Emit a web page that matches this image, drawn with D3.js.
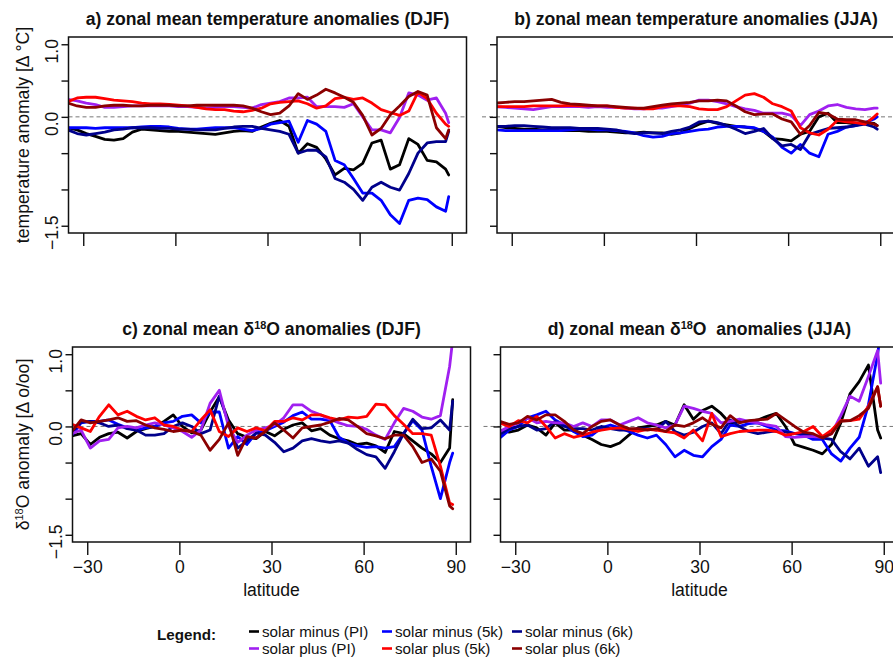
<!DOCTYPE html>
<html><head><meta charset="utf-8">
<script src="https://cdn.jsdelivr.net/npm/d3@7"></script>
<style>body{margin:0;background:#fff}svg{font-family:"Liberation Sans",Arial,Helvetica,sans-serif}</style>
</head><body>
<svg id="chart" width="893" height="657"></svg>
<script>
// ---------- DATA ----------
const lat = [-35,-32,-29,-26,-23,-20,-17,-14,-11,-8,-5,-2,1,4,7,10,13,16,19,22,25,28,31,34,37,40,43,46,49,52,55,58,61,64,67,70,73,76,79,82,85,88,89];

const seriesNames = ["solar minus (PI)","solar minus (5k)","solar minus (6k)","solar plus (PI)","solar plus (5k)","solar plus (6k)"];
const seriesColors = ["#000000","#0000FF","#00008B","#A020F0","#FF0000","#8B0000"];

const yTicks = [-1.5,-1,-0.5,0,0.5,1];
const yTickLabels = [[1,"1.0"],[0,"0.0"],[-1.5,"\u22121.5"]];
const xTicks = [-30,0,30,60,90];

// a) temperature DJF
const tDJF_minusPI = [-0.15,-0.18,-0.23,-0.27,-0.31,-0.32,-0.30,-0.21,-0.17,-0.18,-0.19,-0.20,-0.20,-0.21,-0.22,-0.23,-0.24,-0.22,-0.20,-0.19,-0.20,-0.14,-0.09,-0.05,-0.13,-0.50,-0.37,-0.42,-0.58,-0.80,-0.71,-0.73,-0.64,-0.36,-0.32,-0.72,-0.66,-0.30,-0.38,-0.60,-0.62,-0.72,-0.80];
const tDJF_minus5k = [-0.15,-0.15,-0.15,-0.16,-0.15,-0.15,-0.15,-0.15,-0.14,-0.13,-0.13,-0.14,-0.16,-0.17,-0.17,-0.16,-0.15,-0.15,-0.15,-0.17,-0.19,-0.16,-0.10,-0.08,-0.06,-0.35,-0.05,-0.10,-0.20,-0.60,-0.66,-0.85,-1.05,-1.05,-1.15,-1.35,-1.47,-1.15,-1.12,-1.14,-1.24,-1.30,-1.10];
const tDJF_minus6k = [-0.18,-0.23,-0.25,-0.23,-0.21,-0.18,-0.17,-0.15,-0.15,-0.15,-0.16,-0.16,-0.17,-0.17,-0.18,-0.18,-0.18,-0.16,-0.14,-0.13,-0.13,-0.16,-0.18,-0.20,-0.24,-0.50,-0.46,-0.46,-0.55,-0.85,-0.90,-1.00,-1.15,-0.97,-0.90,-0.97,-1.01,-0.78,-0.50,-0.36,-0.34,-0.34,-0.20];
const tDJF_plusPI = [0.24,0.22,0.19,0.17,0.13,0.13,0.14,0.15,0.15,0.15,0.15,0.15,0.14,0.14,0.13,0.12,0.13,0.14,0.14,0.13,0.12,0.17,0.19,0.21,0.26,0.26,0.27,0.14,0.14,0.14,0.13,0.18,0.00,-0.18,-0.18,-0.22,-0.01,0.33,0.30,0.23,0.26,0.05,-0.08];
const tDJF_plus5k = [0.21,0.26,0.27,0.27,0.25,0.23,0.22,0.21,0.19,0.18,0.18,0.17,0.16,0.15,0.13,0.11,0.10,0.10,0.08,0.07,0.09,0.12,0.18,0.20,0.21,0.22,0.18,0.12,0.15,0.25,0.27,0.24,0.26,0.19,0.10,0.06,0.02,0.08,0.34,0.25,0.05,-0.10,-0.13];
const tDJF_plus6k = [0.19,0.15,0.13,0.13,0.15,0.16,0.16,0.15,0.15,0.16,0.16,0.16,0.15,0.15,0.16,0.16,0.16,0.16,0.16,0.15,0.12,0.07,0.03,0.05,0.15,0.32,0.24,0.30,0.38,0.33,0.27,0.20,0.02,-0.25,-0.16,0.03,0.15,0.28,0.35,0.30,-0.15,-0.30,-0.18];

// b) temperature JJA
const tJJA_minusPI = [-0.13,-0.15,-0.16,-0.17,-0.17,-0.18,-0.18,-0.19,-0.19,-0.19,-0.20,-0.20,-0.20,-0.21,-0.22,-0.22,-0.21,-0.22,-0.22,-0.24,-0.22,-0.16,-0.10,-0.06,-0.09,-0.11,-0.13,-0.14,-0.16,-0.20,-0.30,-0.31,-0.33,-0.24,-0.20,0.00,0.05,-0.08,-0.08,-0.10,-0.08,-0.09,-0.12];
const tJJA_minus5k = [-0.18,-0.19,-0.19,-0.19,-0.19,-0.19,-0.19,-0.19,-0.18,-0.17,-0.17,-0.18,-0.18,-0.19,-0.20,-0.22,-0.26,-0.28,-0.27,-0.23,-0.22,-0.20,-0.18,-0.17,-0.14,-0.13,-0.13,-0.14,-0.15,-0.20,-0.28,-0.42,-0.50,-0.38,-0.50,-0.55,-0.24,-0.20,-0.14,-0.12,-0.08,-0.03,0.00];
const tJJA_minus6k = [-0.13,-0.13,-0.12,-0.12,-0.13,-0.14,-0.15,-0.15,-0.15,-0.16,-0.16,-0.16,-0.17,-0.18,-0.21,-0.23,-0.22,-0.22,-0.23,-0.20,-0.18,-0.14,-0.07,-0.06,-0.08,-0.12,-0.17,-0.23,-0.20,-0.16,-0.30,-0.40,-0.38,-0.45,-0.24,-0.20,-0.16,-0.15,-0.14,-0.12,-0.10,-0.14,-0.17];
const tJJA_plusPI = [0.14,0.13,0.12,0.11,0.10,0.12,0.14,0.14,0.14,0.14,0.13,0.14,0.13,0.13,0.12,0.11,0.11,0.12,0.12,0.14,0.16,0.19,0.23,0.23,0.21,0.18,0.14,0.11,0.09,0.05,0.05,0.05,0.02,-0.12,0.03,0.08,0.15,0.17,0.13,0.11,0.10,0.12,0.12];
const tJJA_plus5k = [0.14,0.14,0.14,0.14,0.15,0.15,0.15,0.15,0.16,0.15,0.15,0.15,0.15,0.13,0.12,0.12,0.11,0.11,0.14,0.15,0.15,0.14,0.11,0.10,0.10,0.14,0.22,0.30,0.32,0.27,0.18,0.14,0.08,-0.15,-0.22,-0.25,-0.17,-0.05,-0.07,-0.08,-0.10,0.00,0.04];
const tJJA_plus6k = [0.19,0.20,0.21,0.21,0.22,0.23,0.24,0.20,0.18,0.17,0.16,0.15,0.15,0.14,0.13,0.12,0.12,0.14,0.16,0.18,0.19,0.20,0.22,0.22,0.23,0.22,0.15,0.07,0.03,0.04,0.04,-0.03,-0.07,-0.24,-0.12,0.06,0.04,-0.03,-0.04,-0.04,-0.07,-0.10,-0.12];

// c) d18O DJF
const oDJF_minusPI = [-0.13,-0.10,-0.25,-0.15,-0.10,-0.08,-0.16,-0.07,-0.03,0.00,0.07,0.16,0.00,-0.09,-0.05,0.20,0.41,0.09,-0.10,-0.15,-0.17,-0.07,-0.13,-0.04,0.02,0.05,-0.06,-0.03,-0.12,-0.17,-0.20,-0.25,-0.23,-0.27,-0.36,-0.07,-0.10,-0.20,-0.30,-0.38,-0.50,-0.30,0.37];
const oDJF_minus5k = [-0.12,0.05,0.07,0.07,0.09,0.03,-0.02,-0.05,-0.02,0.00,0.05,0.07,0.14,0.16,0.05,0.20,0.20,-0.30,-0.14,-0.25,-0.09,-0.06,0.00,0.06,0.15,0.20,0.10,0.10,0.08,-0.15,-0.23,-0.27,-0.29,-0.28,-0.30,-0.28,-0.10,0.08,-0.05,-0.55,-1.00,-0.50,-0.37];
const oDJF_minus6k = [-0.08,0.06,0.07,0.05,0.00,0.02,-0.03,-0.05,-0.12,-0.12,-0.10,0.00,0.05,0.00,-0.10,-0.05,0.42,0.05,-0.30,-0.20,-0.09,-0.12,-0.22,-0.35,-0.30,-0.20,-0.17,-0.20,-0.22,-0.20,-0.23,-0.32,-0.39,-0.42,-0.58,-0.35,-0.10,0.10,-0.03,-0.02,0.09,-0.05,0.35];
const oDJF_plusPI = [-0.10,-0.05,-0.30,-0.20,-0.18,-0.02,0.00,-0.02,0.02,0.05,0.02,-0.02,-0.07,-0.15,-0.05,0.32,0.50,0.00,-0.22,-0.12,-0.05,-0.02,0.02,0.12,0.30,0.30,0.21,0.16,0.10,0.05,0.01,0.00,-0.04,-0.12,-0.18,0.05,0.25,0.21,0.13,0.10,0.15,0.83,1.20];
const oDJF_plus5k = [0.03,-0.02,-0.07,0.14,0.30,0.16,0.21,0.14,0.09,0.12,0.02,0.00,-0.05,-0.07,0.09,0.23,-0.07,-0.14,-0.02,-0.07,-0.02,-0.06,0.07,0.07,0.12,0.09,0.16,0.16,0.12,0.09,0.13,0.12,0.14,0.31,0.30,0.15,0.03,-0.10,-0.10,-0.12,-0.55,-1.06,-1.08];
const oDJF_plus6k = [-0.07,0.09,0.05,0.07,0.09,0.12,0.07,0.08,0.02,-0.02,-0.04,-0.07,-0.05,-0.07,-0.12,-0.33,-0.18,0.05,-0.40,-0.14,-0.16,-0.07,0.05,-0.05,-0.16,-0.02,0.00,0.02,0.06,0.11,0.09,0.00,-0.10,-0.13,-0.17,-0.12,-0.12,-0.28,-0.50,-0.45,-0.62,-1.10,-1.14];

// d) d18O JJA
const oJJA_minusPI = [-0.05,-0.08,-0.05,0.02,-0.02,-0.12,0.05,-0.05,-0.05,-0.12,-0.18,-0.25,-0.28,-0.23,-0.12,-0.02,0.00,0.02,0.07,0.02,0.30,0.10,0.22,0.28,0.18,0.04,0.07,0.07,0.09,0.14,0.18,0.00,-0.25,-0.29,-0.33,-0.38,-0.25,0.05,0.45,0.62,0.85,-0.05,-0.16];
const oJJA_minus5k = [-0.16,-0.05,0.00,0.12,0.16,0.21,0.09,0.02,-0.07,-0.14,-0.12,-0.02,0.02,-0.02,-0.07,-0.12,-0.16,-0.12,-0.25,-0.42,-0.33,-0.40,-0.42,-0.28,-0.18,0.02,0.00,0.04,0.05,0.00,-0.05,-0.06,-0.10,-0.12,-0.18,-0.18,-0.38,-0.48,-0.30,-0.15,0.30,1.00,1.30];
const oJJA_minus6k = [-0.11,-0.03,0.00,0.02,-0.05,-0.03,0.07,0.00,-0.03,-0.03,-0.05,0.00,-0.03,-0.05,-0.05,-0.03,-0.03,-0.05,0.07,-0.07,-0.12,-0.08,0.00,0.05,-0.10,0.09,0.00,-0.07,-0.10,-0.08,-0.06,-0.08,-0.10,-0.10,-0.13,-0.16,-0.18,-0.35,-0.45,-0.30,-0.55,-0.42,-0.64];
const oJJA_plusPI = [-0.07,0.00,0.05,0.12,0.05,0.07,0.05,0.05,0.00,0.05,0.00,0.09,0.09,0.02,0.07,0.12,0.05,0.02,-0.02,0.02,0.28,0.25,0.21,0.18,0.05,0.07,0.10,0.07,0.05,0.02,0.00,-0.14,-0.15,-0.14,-0.14,-0.15,-0.10,0.15,0.42,0.35,0.69,1.05,0.60];
const oJJA_plus5k = [0.05,0.00,0.08,0.05,0.14,0.00,-0.16,-0.10,-0.15,-0.12,-0.08,-0.05,-0.03,-0.02,-0.04,-0.07,-0.04,-0.05,-0.07,-0.09,-0.16,-0.05,-0.20,0.18,-0.14,-0.10,-0.07,-0.06,-0.05,-0.05,-0.07,-0.12,-0.10,-0.07,0.00,-0.14,-0.05,0.08,0.08,0.10,0.28,0.55,0.28];
const oJJA_plus6k = [0.07,0.03,0.05,0.14,0.09,0.16,0.16,0.07,-0.05,-0.10,0.00,0.07,0.09,0.02,-0.03,-0.03,-0.05,-0.03,-0.07,0.02,0.00,0.05,0.12,0.03,-0.02,0.15,0.05,0.08,0.09,0.10,0.18,0.09,0.00,-0.08,-0.10,-0.16,-0.10,0.07,0.08,0.15,0.25,0.55,0.28];

// ---------- LAYOUT ----------
const FONT = 17.6;
const panels = [
  {left:68.5, top:37, w:398, h:196, series:[tDJF_minusPI,tDJF_minus5k,tDJF_minus6k,tDJF_plusPI,tDJF_plus5k,tDJF_plus6k],
   title:[["a) zonal mean temperature anomalies (DJF)",0]], ytitle:[["temperature anomaly [\u0394 \u00B0C]",0]], xlabels:false, ylabels:true, dashExt:0},
  {left:497, top:37, w:398, h:196, series:[tJJA_minusPI,tJJA_minus5k,tJJA_minus6k,tJJA_plusPI,tJJA_plus5k,tJJA_plus6k],
   title:[["b) zonal mean temperature anomalies (JJA)",0]], ytitle:null, xlabels:false, ylabels:false, dashExt:15},
  {left:72.5, top:347, w:398, h:195, series:[oDJF_minusPI,oDJF_minus5k,oDJF_minus6k,oDJF_plusPI,oDJF_plus5k,oDJF_plus6k],
   title:[["c) zonal mean \u03B4",0],["18",1],["O anomalies (DJF)",-1]], ytitle:[["\u03B4",0],["18",1],["O anomaly [\u0394 o/oo]",-1]], xlabels:true, ylabels:true, dashExt:0},
  {left:500.5, top:347, w:398, h:195, series:[oJJA_minusPI,oJJA_minus5k,oJJA_minus6k,oJJA_plusPI,oJJA_plus5k,oJJA_plus6k],
   title:[["d) zonal mean \u03B4",0],["18",1],["O\u00A0 anomalies (JJA)",-1]], ytitle:null, xlabels:true, ylabels:false, dashExt:17}
];

const svg = d3.select("#chart");
svg.append("rect").attr("width",893).attr("height",657).attr("fill","#fff");
const defs = svg.append("defs");

function addRich(sel, parts, size){
  parts.forEach(([t,sup])=>{
    const ts = sel.append("tspan").text(t);
    if(sup===1){ ts.attr("dy",-6).attr("font-size",size*0.62); }
    else if(sup===-1){ ts.attr("dy",6); }
  });
}

panels.forEach((p,i)=>{
  const x = d3.scaleLinear().domain([-34.8,94.8]).range([p.left,p.left+p.w]);
  const y = d3.scaleLinear().domain([-1.6,1.1]).range([p.top+p.h,p.top]);
  const g = svg.append("g");

  defs.append("clipPath").attr("id","clip"+i).append("rect")
    .attr("x",p.left).attr("y",p.top).attr("width",p.w).attr("height",p.h);

  // zero line
  g.append("line").attr("x1",p.left-p.dashExt).attr("x2",p.left+p.w)
    .attr("y1",y(0)).attr("y2",y(0))
    .attr("stroke","#777").attr("stroke-width",1).attr("stroke-dasharray","4,3");

  // series lines
  const line = d3.line().x((d,k)=>x(lat[k])).y(d=>y(d));
  const lg = g.append("g").attr("clip-path",`url(#clip${i})`);
  p.series.forEach((vals,s)=>{
    lg.append("path").datum(vals).attr("d",line)
      .attr("fill","none").attr("stroke",seriesColors[s])
      .attr("stroke-width",2.8).attr("stroke-linejoin","round").attr("stroke-linecap","round");
  });

  // box
  g.append("rect").attr("x",p.left).attr("y",p.top).attr("width",p.w).attr("height",p.h)
    .attr("fill","none").attr("stroke","#111").attr("stroke-width",1.5);

  // y axis ticks
  const ya = g.append("g").attr("transform",`translate(${p.left},0)`)
    .call(d3.axisLeft(y).tickValues(yTicks).tickSize(7).tickFormat(""));
  ya.select(".domain").remove();
  ya.selectAll(".tick line").attr("stroke","#111").attr("stroke-width",1.4);

  if(p.ylabels){
    yTickLabels.forEach(([v,lab])=>{
      g.append("text").attr("transform",`translate(${p.left-11},${y(v)+7}) rotate(-90)`)
        .attr("text-anchor","middle").attr("font-size",FONT).attr("fill","#111").text(lab);
    });
  }

  // x axis
  const xa = g.append("g").attr("transform",`translate(0,${p.top+p.h})`)
    .call(d3.axisBottom(x).tickValues(xTicks).tickSize(13).tickPadding(6)
      .tickFormat(p.xlabels ? d3.format("d") : ""));
  xa.select(".domain").remove();
  xa.attr("font-size",FONT).attr("font-family",null);
  xa.selectAll(".tick line").attr("stroke","#111").attr("stroke-width",1.4);
  xa.selectAll(".tick text").attr("fill","#111");

  if(p.xlabels){
    g.append("text").attr("x",p.left+p.w/2).attr("y",p.top+p.h+54)
      .attr("text-anchor","middle").attr("font-size",FONT).attr("fill","#111").text("latitude");
  }

  // title
  const tt = g.append("text").attr("x",p.left+p.w/2).attr("y",p.top-12)
    .attr("text-anchor","middle").attr("font-size",FONT).attr("font-weight","bold").attr("fill","#111");
  addRich(tt,p.title,FONT);

  // y title
  if(p.ytitle){
    const yt = g.append("text").attr("transform",`translate(29,${p.top+p.h/2}) rotate(-90)`)
      .attr("text-anchor","middle").attr("font-size",FONT).attr("fill","#111");
    addRich(yt,p.ytitle,FONT);
  }
});

// ---------- LEGEND ----------
const lgd = svg.append("g");
lgd.append("text").attr("x",157).attr("y",640).attr("font-size",15.2).attr("font-weight","bold")
  .attr("fill","#111").text("Legend:");
const colX = [249,382,512];
const rowY = [631.5,648.5];
seriesNames.forEach((name,s)=>{
  const c = s%3, r = Math.floor(s/3);
  lgd.append("line").attr("x1",colX[c]).attr("x2",colX[c]+10).attr("y1",rowY[r]).attr("y2",rowY[r])
    .attr("stroke",seriesColors[s]).attr("stroke-width",2.6);
  lgd.append("text").attr("x",colX[c]+13).attr("y",rowY[r]+5.2).attr("font-size",15.2)
    .attr("fill","#111").text(name);
});
</script>
</body></html>
